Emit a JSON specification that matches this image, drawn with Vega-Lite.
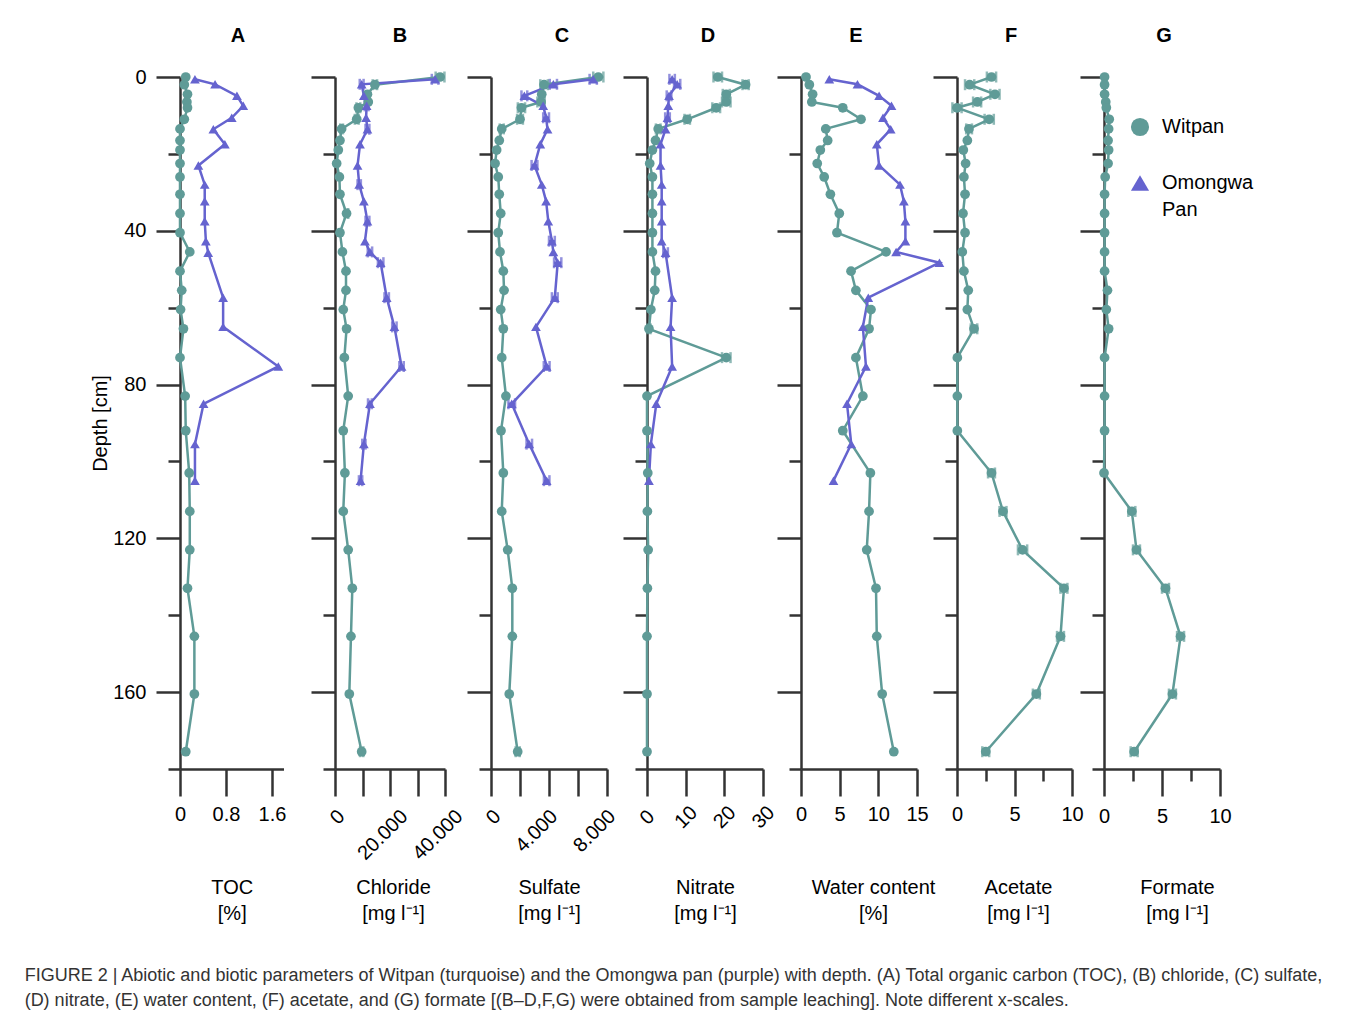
{
  "$schema": "https://vega.github.io/schema/vega-lite/v6.json",
  "background": "white",
  "padding": {"left": 24, "top": 25, "right": 10, "bottom": 5},
  "spacing": 0,
  "bounds": "flush",
  "title": {
    "text": ["FIGURE 2 | Abiotic and biotic parameters of Witpan (turquoise) and the Omongwa pan (purple) with depth. (A) Total organic carbon (TOC), (B) chloride, (C) sulfate,", "(D) nitrate, (E) water content, (F) acetate, and (G) formate [(B–D,F,G) were obtained from sample leaching]. Note different x-scales."],
    "orient": "bottom", "anchor": "start", "frame": "bounds", "fontSize": 18, "fontWeight": "normal", "color": "#333333", "lineHeight": 25, "offset": 44, "dx": -66
  },
  "data": {"values": [
    {"panel":"A","site":"Witpan","depth":0,"value":0.10},{"panel":"A","site":"Witpan","depth":2,"value":0.075},{"panel":"A","site":"Witpan","depth":4.5,"value":0.13},{"panel":"A","site":"Witpan","depth":6.5,"value":0.12},{"panel":"A","site":"Witpan","depth":8,"value":0.13},{"panel":"A","site":"Witpan","depth":11,"value":0.075},{"panel":"A","site":"Witpan","depth":13.5,"value":0},{"panel":"A","site":"Witpan","depth":16.5,"value":0},{"panel":"A","site":"Witpan","depth":19,"value":0},{"panel":"A","site":"Witpan","depth":22.5,"value":0},{"panel":"A","site":"Witpan","depth":26,"value":0},{"panel":"A","site":"Witpan","depth":30.5,"value":0},{"panel":"A","site":"Witpan","depth":35.5,"value":0},{"panel":"A","site":"Witpan","depth":40.5,"value":0},{"panel":"A","site":"Witpan","depth":45.5,"value":0.17},{"panel":"A","site":"Witpan","depth":50.5,"value":0},{"panel":"A","site":"Witpan","depth":55.5,"value":0.03},{"panel":"A","site":"Witpan","depth":60.5,"value":0.01},{"panel":"A","site":"Witpan","depth":65.5,"value":0.06},{"panel":"A","site":"Witpan","depth":73,"value":0},{"panel":"A","site":"Witpan","depth":83,"value":0.09},{"panel":"A","site":"Witpan","depth":92,"value":0.10},{"panel":"A","site":"Witpan","depth":103,"value":0.16},{"panel":"A","site":"Witpan","depth":113,"value":0.17},{"panel":"A","site":"Witpan","depth":123,"value":0.17},{"panel":"A","site":"Witpan","depth":133,"value":0.13},{"panel":"A","site":"Witpan","depth":145.5,"value":0.25},{"panel":"A","site":"Witpan","depth":160.5,"value":0.25},{"panel":"A","site":"Witpan","depth":175.5,"value":0.10},
    {"panel":"A","site":"Omongwa Pan","depth":0.6,"value":0.26},{"panel":"A","site":"Omongwa Pan","depth":1.9,"value":0.61},{"panel":"A","site":"Omongwa Pan","depth":4.9,"value":0.99},{"panel":"A","site":"Omongwa Pan","depth":7.5,"value":1.10},{"panel":"A","site":"Omongwa Pan","depth":10.6,"value":0.90},{"panel":"A","site":"Omongwa Pan","depth":13.6,"value":0.58},{"panel":"A","site":"Omongwa Pan","depth":17.5,"value":0.78},{"panel":"A","site":"Omongwa Pan","depth":23,"value":0.32},{"panel":"A","site":"Omongwa Pan","depth":28,"value":0.43},{"panel":"A","site":"Omongwa Pan","depth":32.3,"value":0.43},{"panel":"A","site":"Omongwa Pan","depth":37.5,"value":0.43},{"panel":"A","site":"Omongwa Pan","depth":42.7,"value":0.45},{"panel":"A","site":"Omongwa Pan","depth":45.7,"value":0.49},{"panel":"A","site":"Omongwa Pan","depth":57.4,"value":0.75},{"panel":"A","site":"Omongwa Pan","depth":65,"value":0.75},{"panel":"A","site":"Omongwa Pan","depth":75.3,"value":1.71},{"panel":"A","site":"Omongwa Pan","depth":85,"value":0.41},{"panel":"A","site":"Omongwa Pan","depth":95.5,"value":0.26},{"panel":"A","site":"Omongwa Pan","depth":105,"value":0.26},
    {"panel":"B","site":"Witpan","depth":0,"value":38200,"lo":36600,"hi":39800},{"panel":"B","site":"Witpan","depth":2,"value":14500,"lo":13700,"hi":15300},{"panel":"B","site":"Witpan","depth":4.5,"value":11800},{"panel":"B","site":"Witpan","depth":6.5,"value":12100},{"panel":"B","site":"Witpan","depth":8,"value":8500,"lo":7800,"hi":9200},{"panel":"B","site":"Witpan","depth":11,"value":7900,"lo":7200,"hi":8600},{"panel":"B","site":"Witpan","depth":13.5,"value":2400,"lo":1900,"hi":2900},{"panel":"B","site":"Witpan","depth":16.5,"value":1800},{"panel":"B","site":"Witpan","depth":19,"value":1200},{"panel":"B","site":"Witpan","depth":22.5,"value":600},{"panel":"B","site":"Witpan","depth":26,"value":1600},{"panel":"B","site":"Witpan","depth":30.5,"value":1800},{"panel":"B","site":"Witpan","depth":35.5,"value":4200,"lo":3600,"hi":4800},{"panel":"B","site":"Witpan","depth":40.5,"value":1800},{"panel":"B","site":"Witpan","depth":45.5,"value":2700},{"panel":"B","site":"Witpan","depth":50.5,"value":4000},{"panel":"B","site":"Witpan","depth":55.5,"value":4000},{"panel":"B","site":"Witpan","depth":60.5,"value":3000},{"panel":"B","site":"Witpan","depth":65.5,"value":4200},{"panel":"B","site":"Witpan","depth":73,"value":3400},{"panel":"B","site":"Witpan","depth":83,"value":4800},{"panel":"B","site":"Witpan","depth":92,"value":3000},{"panel":"B","site":"Witpan","depth":103,"value":3600},{"panel":"B","site":"Witpan","depth":113,"value":3000},{"panel":"B","site":"Witpan","depth":123,"value":4800},{"panel":"B","site":"Witpan","depth":133,"value":6300},{"panel":"B","site":"Witpan","depth":145.5,"value":5800},{"panel":"B","site":"Witpan","depth":160.5,"value":5200},{"panel":"B","site":"Witpan","depth":175.5,"value":9700,"lo":9100,"hi":10300},
    {"panel":"B","site":"Omongwa Pan","depth":0.6,"value":36400,"lo":35200,"hi":37600},{"panel":"B","site":"Omongwa Pan","depth":1.9,"value":9700,"lo":9000,"hi":10400},{"panel":"B","site":"Omongwa Pan","depth":4.9,"value":10500},{"panel":"B","site":"Omongwa Pan","depth":7.5,"value":11500,"lo":10800,"hi":12200},{"panel":"B","site":"Omongwa Pan","depth":10.6,"value":11300},{"panel":"B","site":"Omongwa Pan","depth":13.6,"value":11800,"lo":11100,"hi":12500},{"panel":"B","site":"Omongwa Pan","depth":17.5,"value":9100},{"panel":"B","site":"Omongwa Pan","depth":23,"value":8200},{"panel":"B","site":"Omongwa Pan","depth":28,"value":8800,"lo":8200,"hi":9400},{"panel":"B","site":"Omongwa Pan","depth":32.3,"value":10500},{"panel":"B","site":"Omongwa Pan","depth":37.5,"value":11800,"lo":11100,"hi":12500},{"panel":"B","site":"Omongwa Pan","depth":42.7,"value":10900},{"panel":"B","site":"Omongwa Pan","depth":45.5,"value":12700,"lo":11900,"hi":13500},{"panel":"B","site":"Omongwa Pan","depth":48.3,"value":16600,"lo":15600,"hi":17600},{"panel":"B","site":"Omongwa Pan","depth":57.4,"value":18800,"lo":18000,"hi":19600},{"panel":"B","site":"Omongwa Pan","depth":65,"value":21600,"lo":20800,"hi":22400},{"panel":"B","site":"Omongwa Pan","depth":75.3,"value":24200,"lo":23400,"hi":25000},{"panel":"B","site":"Omongwa Pan","depth":85,"value":12700,"lo":12000,"hi":13400},{"panel":"B","site":"Omongwa Pan","depth":95.5,"value":10500,"lo":9900,"hi":11100},{"panel":"B","site":"Omongwa Pan","depth":105,"value":9300,"lo":8700,"hi":9900},
    {"panel":"C","site":"Witpan","depth":0,"value":7400,"lo":7050,"hi":7750},{"panel":"C","site":"Witpan","depth":2,"value":3660,"lo":3400,"hi":3920},{"panel":"C","site":"Witpan","depth":4.5,"value":3500},{"panel":"C","site":"Witpan","depth":6.5,"value":3450,"lo":3200,"hi":3700},{"panel":"C","site":"Witpan","depth":8,"value":2100,"lo":1850,"hi":2350},{"panel":"C","site":"Witpan","depth":11,"value":2000,"lo":1800,"hi":2200},{"panel":"C","site":"Witpan","depth":13.5,"value":740,"lo":600,"hi":880},{"panel":"C","site":"Witpan","depth":16.5,"value":570},{"panel":"C","site":"Witpan","depth":19,"value":390},{"panel":"C","site":"Witpan","depth":22.5,"value":280},{"panel":"C","site":"Witpan","depth":26,"value":500},{"panel":"C","site":"Witpan","depth":30.5,"value":570},{"panel":"C","site":"Witpan","depth":35.5,"value":670},{"panel":"C","site":"Witpan","depth":40.5,"value":500},{"panel":"C","site":"Witpan","depth":45.5,"value":620},{"panel":"C","site":"Witpan","depth":50.5,"value":850},{"panel":"C","site":"Witpan","depth":55.5,"value":900},{"panel":"C","site":"Witpan","depth":60.5,"value":670},{"panel":"C","site":"Witpan","depth":65.5,"value":850},{"panel":"C","site":"Witpan","depth":73,"value":740},{"panel":"C","site":"Witpan","depth":83,"value":1030},{"panel":"C","site":"Witpan","depth":92,"value":690},{"panel":"C","site":"Witpan","depth":103,"value":850},{"panel":"C","site":"Witpan","depth":113,"value":740},{"panel":"C","site":"Witpan","depth":123,"value":1150},{"panel":"C","site":"Witpan","depth":133,"value":1470},{"panel":"C","site":"Witpan","depth":145.5,"value":1470},{"panel":"C","site":"Witpan","depth":160.5,"value":1260},{"panel":"C","site":"Witpan","depth":175.5,"value":1840,"lo":1700,"hi":1980},
    {"panel":"C","site":"Omongwa Pan","depth":0.6,"value":7050,"lo":6800,"hi":7300},{"panel":"C","site":"Omongwa Pan","depth":1.9,"value":4300,"lo":4050,"hi":4550},{"panel":"C","site":"Omongwa Pan","depth":4.9,"value":2300,"lo":2100,"hi":2500},{"panel":"C","site":"Omongwa Pan","depth":7.5,"value":3600},{"panel":"C","site":"Omongwa Pan","depth":10.6,"value":3800,"lo":3600,"hi":4000},{"panel":"C","site":"Omongwa Pan","depth":13.6,"value":3900},{"panel":"C","site":"Omongwa Pan","depth":17.5,"value":3400},{"panel":"C","site":"Omongwa Pan","depth":23,"value":3000,"lo":2800,"hi":3200},{"panel":"C","site":"Omongwa Pan","depth":28,"value":3500},{"panel":"C","site":"Omongwa Pan","depth":32.3,"value":3800},{"panel":"C","site":"Omongwa Pan","depth":37.5,"value":3950},{"panel":"C","site":"Omongwa Pan","depth":42.7,"value":4200,"lo":4000,"hi":4400},{"panel":"C","site":"Omongwa Pan","depth":45.5,"value":4300},{"panel":"C","site":"Omongwa Pan","depth":48.3,"value":4600,"lo":4350,"hi":4850},{"panel":"C","site":"Omongwa Pan","depth":57.4,"value":4400,"lo":4200,"hi":4600},{"panel":"C","site":"Omongwa Pan","depth":65,"value":3100},{"panel":"C","site":"Omongwa Pan","depth":75.3,"value":3840,"lo":3640,"hi":4040},{"panel":"C","site":"Omongwa Pan","depth":85,"value":1430,"lo":1200,"hi":1660},{"panel":"C","site":"Omongwa Pan","depth":95.5,"value":2640,"lo":2450,"hi":2830},{"panel":"C","site":"Omongwa Pan","depth":105,"value":3840,"lo":3650,"hi":4030},
    {"panel":"D","site":"Witpan","depth":0,"value":18.3,"lo":17.2,"hi":19.4},{"panel":"D","site":"Witpan","depth":2,"value":25.5,"lo":24.7,"hi":26.3},{"panel":"D","site":"Witpan","depth":4.5,"value":20.5,"lo":19.6,"hi":21.4},{"panel":"D","site":"Witpan","depth":6.5,"value":20.5,"lo":19.4,"hi":21.6},{"panel":"D","site":"Witpan","depth":8,"value":17.9,"lo":16.9,"hi":18.9},{"panel":"D","site":"Witpan","depth":11,"value":10.4,"lo":9.7,"hi":11.1},{"panel":"D","site":"Witpan","depth":13.5,"value":2.9,"lo":2.3,"hi":3.5},{"panel":"D","site":"Witpan","depth":16.5,"value":2.2},{"panel":"D","site":"Witpan","depth":19,"value":1.4},{"panel":"D","site":"Witpan","depth":22.5,"value":0.7},{"panel":"D","site":"Witpan","depth":26,"value":1.4},{"panel":"D","site":"Witpan","depth":30.5,"value":1.4},{"panel":"D","site":"Witpan","depth":35.5,"value":1.4},{"panel":"D","site":"Witpan","depth":40.5,"value":1.4},{"panel":"D","site":"Witpan","depth":45.5,"value":1.4},{"panel":"D","site":"Witpan","depth":50.5,"value":2.2},{"panel":"D","site":"Witpan","depth":55.5,"value":2.0},{"panel":"D","site":"Witpan","depth":60.5,"value":1.0},{"panel":"D","site":"Witpan","depth":65.5,"value":0.5,"lo":0.1,"hi":0.9},{"panel":"D","site":"Witpan","depth":73,"value":20.5,"lo":19.4,"hi":21.6},{"panel":"D","site":"Witpan","depth":83,"value":0},{"panel":"D","site":"Witpan","depth":92,"value":0},{"panel":"D","site":"Witpan","depth":103,"value":0.2},{"panel":"D","site":"Witpan","depth":113,"value":0.1},{"panel":"D","site":"Witpan","depth":123,"value":0.3},{"panel":"D","site":"Witpan","depth":133,"value":0.1},{"panel":"D","site":"Witpan","depth":145.5,"value":0},{"panel":"D","site":"Witpan","depth":160.5,"value":0},{"panel":"D","site":"Witpan","depth":175.5,"value":0},
    {"panel":"D","site":"Omongwa Pan","depth":0.6,"value":6.5,"lo":5.8,"hi":7.2},{"panel":"D","site":"Omongwa Pan","depth":1.9,"value":7.8,"lo":7.0,"hi":8.6},{"panel":"D","site":"Omongwa Pan","depth":4.9,"value":5.7,"lo":5.1,"hi":6.3},{"panel":"D","site":"Omongwa Pan","depth":7.5,"value":5.5},{"panel":"D","site":"Omongwa Pan","depth":10.6,"value":5.3,"lo":4.7,"hi":5.9},{"panel":"D","site":"Omongwa Pan","depth":13.6,"value":4.8},{"panel":"D","site":"Omongwa Pan","depth":17.5,"value":3.5},{"panel":"D","site":"Omongwa Pan","depth":23,"value":3.5},{"panel":"D","site":"Omongwa Pan","depth":28,"value":3.8},{"panel":"D","site":"Omongwa Pan","depth":32.3,"value":3.8},{"panel":"D","site":"Omongwa Pan","depth":37.5,"value":3.8},{"panel":"D","site":"Omongwa Pan","depth":42.7,"value":3.8},{"panel":"D","site":"Omongwa Pan","depth":45.7,"value":4.8,"lo":4.2,"hi":5.4},{"panel":"D","site":"Omongwa Pan","depth":57.4,"value":6.5},{"panel":"D","site":"Omongwa Pan","depth":65,"value":6.1},{"panel":"D","site":"Omongwa Pan","depth":75.3,"value":6.5},{"panel":"D","site":"Omongwa Pan","depth":85,"value":2.4},{"panel":"D","site":"Omongwa Pan","depth":95.5,"value":1.0},{"panel":"D","site":"Omongwa Pan","depth":105,"value":0.5},
    {"panel":"E","site":"Witpan","depth":0,"value":0.65},{"panel":"E","site":"Witpan","depth":2,"value":1.08},{"panel":"E","site":"Witpan","depth":4.5,"value":1.5},{"panel":"E","site":"Witpan","depth":6.5,"value":1.4},{"panel":"E","site":"Witpan","depth":8,"value":5.4},{"panel":"E","site":"Witpan","depth":11,"value":7.76},{"panel":"E","site":"Witpan","depth":13.5,"value":3.2},{"panel":"E","site":"Witpan","depth":16.5,"value":3.45},{"panel":"E","site":"Witpan","depth":19,"value":2.5},{"panel":"E","site":"Witpan","depth":22.5,"value":2.1},{"panel":"E","site":"Witpan","depth":26,"value":3.0},{"panel":"E","site":"Witpan","depth":30.5,"value":3.8},{"panel":"E","site":"Witpan","depth":35.5,"value":4.95},{"panel":"E","site":"Witpan","depth":40.5,"value":4.65},{"panel":"E","site":"Witpan","depth":45.5,"value":11.0},{"panel":"E","site":"Witpan","depth":50.5,"value":6.47},{"panel":"E","site":"Witpan","depth":55.5,"value":7.1},{"panel":"E","site":"Witpan","depth":60.5,"value":9.05},{"panel":"E","site":"Witpan","depth":65.5,"value":8.8},{"panel":"E","site":"Witpan","depth":73,"value":7.1},{"panel":"E","site":"Witpan","depth":83,"value":8.0},{"panel":"E","site":"Witpan","depth":92,"value":5.4},{"panel":"E","site":"Witpan","depth":103,"value":8.97},{"panel":"E","site":"Witpan","depth":113,"value":8.8},{"panel":"E","site":"Witpan","depth":123,"value":8.5},{"panel":"E","site":"Witpan","depth":133,"value":9.7},{"panel":"E","site":"Witpan","depth":145.5,"value":9.8},{"panel":"E","site":"Witpan","depth":160.5,"value":10.5},{"panel":"E","site":"Witpan","depth":175.5,"value":12.0},
    {"panel":"E","site":"Omongwa Pan","depth":0.6,"value":3.66},{"panel":"E","site":"Omongwa Pan","depth":1.9,"value":7.3},{"panel":"E","site":"Omongwa Pan","depth":4.9,"value":10.1},{"panel":"E","site":"Omongwa Pan","depth":7.5,"value":11.7},{"panel":"E","site":"Omongwa Pan","depth":10.6,"value":10.6},{"panel":"E","site":"Omongwa Pan","depth":13.6,"value":11.6},{"panel":"E","site":"Omongwa Pan","depth":17.5,"value":9.8},{"panel":"E","site":"Omongwa Pan","depth":23,"value":10.1},{"panel":"E","site":"Omongwa Pan","depth":28,"value":12.8},{"panel":"E","site":"Omongwa Pan","depth":32.3,"value":13.3},{"panel":"E","site":"Omongwa Pan","depth":37.5,"value":13.5},{"panel":"E","site":"Omongwa Pan","depth":42.7,"value":13.5},{"panel":"E","site":"Omongwa Pan","depth":45.5,"value":12.3},{"panel":"E","site":"Omongwa Pan","depth":48.3,"value":17.9},{"panel":"E","site":"Omongwa Pan","depth":57.4,"value":8.7},{"panel":"E","site":"Omongwa Pan","depth":65,"value":8.0},{"panel":"E","site":"Omongwa Pan","depth":75.3,"value":8.4},{"panel":"E","site":"Omongwa Pan","depth":85,"value":5.95},{"panel":"E","site":"Omongwa Pan","depth":95.5,"value":6.5},{"panel":"E","site":"Omongwa Pan","depth":105,"value":4.2},
    {"panel":"F","site":"Witpan","depth":0,"value":3.0,"lo":2.6,"hi":3.4},{"panel":"F","site":"Witpan","depth":2,"value":1.1,"lo":0.7,"hi":1.5},{"panel":"F","site":"Witpan","depth":4.5,"value":3.3,"lo":2.9,"hi":3.7},{"panel":"F","site":"Witpan","depth":6.5,"value":1.77,"lo":1.4,"hi":2.1},{"panel":"F","site":"Witpan","depth":8,"value":0,"lo":-0.4,"hi":0.4},{"panel":"F","site":"Witpan","depth":11,"value":2.8,"lo":2.4,"hi":3.2},{"panel":"F","site":"Witpan","depth":13.5,"value":1.04,"lo":0.8,"hi":1.3},{"panel":"F","site":"Witpan","depth":16.5,"value":0.9},{"panel":"F","site":"Witpan","depth":19,"value":0.55},{"panel":"F","site":"Witpan","depth":22.5,"value":0.75},{"panel":"F","site":"Witpan","depth":26,"value":0.6},{"panel":"F","site":"Witpan","depth":30.5,"value":0.7},{"panel":"F","site":"Witpan","depth":35.5,"value":0.52},{"panel":"F","site":"Witpan","depth":40.5,"value":0.7},{"panel":"F","site":"Witpan","depth":45.5,"value":0.46},{"panel":"F","site":"Witpan","depth":50.5,"value":0.6},{"panel":"F","site":"Witpan","depth":55.5,"value":0.98},{"panel":"F","site":"Witpan","depth":60.5,"value":0.9},{"panel":"F","site":"Witpan","depth":65.5,"value":1.48,"lo":1.2,"hi":1.76},{"panel":"F","site":"Witpan","depth":73,"value":0.03},{"panel":"F","site":"Witpan","depth":83,"value":0.03},{"panel":"F","site":"Witpan","depth":92,"value":0.03},{"panel":"F","site":"Witpan","depth":103,"value":3.0,"lo":2.7,"hi":3.3},{"panel":"F","site":"Witpan","depth":113,"value":4.0,"lo":3.7,"hi":4.3},{"panel":"F","site":"Witpan","depth":123,"value":5.7,"lo":5.3,"hi":6.1},{"panel":"F","site":"Witpan","depth":133,"value":9.3,"lo":9.0,"hi":9.6},{"panel":"F","site":"Witpan","depth":145.5,"value":9.0,"lo":8.7,"hi":9.3},{"panel":"F","site":"Witpan","depth":160.5,"value":6.9,"lo":6.6,"hi":7.2},{"panel":"F","site":"Witpan","depth":175.5,"value":2.5,"lo":2.2,"hi":2.8},
    {"panel":"G","site":"Witpan","depth":0,"value":0.05},{"panel":"G","site":"Witpan","depth":2,"value":0.05},{"panel":"G","site":"Witpan","depth":4.5,"value":0.05},{"panel":"G","site":"Witpan","depth":6.5,"value":0.15},{"panel":"G","site":"Witpan","depth":8,"value":0.2},{"panel":"G","site":"Witpan","depth":11,"value":0.45},{"panel":"G","site":"Witpan","depth":13.5,"value":0.4},{"panel":"G","site":"Witpan","depth":16.5,"value":0.35},{"panel":"G","site":"Witpan","depth":19,"value":0.4},{"panel":"G","site":"Witpan","depth":22.5,"value":0.35},{"panel":"G","site":"Witpan","depth":26,"value":0.1},{"panel":"G","site":"Witpan","depth":30.5,"value":0.05},{"panel":"G","site":"Witpan","depth":35.5,"value":0.05},{"panel":"G","site":"Witpan","depth":40.5,"value":0.05},{"panel":"G","site":"Witpan","depth":45.5,"value":0.05},{"panel":"G","site":"Witpan","depth":50.5,"value":0.05},{"panel":"G","site":"Witpan","depth":55.5,"value":0.3},{"panel":"G","site":"Witpan","depth":60.5,"value":0.2},{"panel":"G","site":"Witpan","depth":65.5,"value":0.4},{"panel":"G","site":"Witpan","depth":73,"value":0.05},{"panel":"G","site":"Witpan","depth":83,"value":0.05},{"panel":"G","site":"Witpan","depth":92,"value":0.05},{"panel":"G","site":"Witpan","depth":103,"value":0},{"panel":"G","site":"Witpan","depth":113,"value":2.4,"lo":2.1,"hi":2.7},{"panel":"G","site":"Witpan","depth":123,"value":2.8,"lo":2.5,"hi":3.1},{"panel":"G","site":"Witpan","depth":133,"value":5.3,"lo":5.0,"hi":5.6},{"panel":"G","site":"Witpan","depth":145.5,"value":6.6,"lo":6.3,"hi":6.9},{"panel":"G","site":"Witpan","depth":160.5,"value":5.9,"lo":5.6,"hi":6.2},{"panel":"G","site":"Witpan","depth":175.5,"value":2.6,"lo":2.3,"hi":2.9}
  ]},
  "hconcat": [
    {
      "width": 155, "height": 692,
      "title": {"text": "A", "anchor": "start", "frame": "group", "align": "center", "dx": 58, "offset": 5, "baseline": "alphabetic"},
      "transform": [{"filter": "datum.panel === 'A'"}],
      "encoding": {
        "y": {"field": "depth", "type": "quantitative", "scale": {"domain": [0, 180], "reverse": true, "nice": false, "zero": false},
          "axis": {"values": [0,20,40,60,80,100,120,140,160,180], "labelExpr": "datum.value % 40 === 0 && datum.value < 180 ? datum.label : ''", "tickSize": {"condition": {"test": "datum.value % 40 === 0 && datum.value < 180", "value": 24}, "value": 12}, "labelPadding": 10, "title": "Depth [cm]", "titlePadding": 2}},
        "x": {"field": "value", "type": "quantitative", "scale": {"domain": [0, 1.8], "range": [0, 103.5], "nice": false},
          "axis": {"values": [0, 0.8, 1.6], "format": "~g", "title": ["TOC", "[%]"], "tickSize": 27, "labelPadding": 8, "labelAngle": 0}},
        "color": {"field": "site", "type": "nominal", "scale": {"domain": ["Witpan", "Omongwa Pan"], "range": ["#5f9b97", "#6563cf"]}, "legend": {"title": null, "labelExpr": "datum.label === 'Omongwa Pan' ? ['Omongwa', 'Pan'] : datum.label", "encode": {"labels": {"update": {"lineHeight": {"value": 27}}}}}}
      },
      "layer": [
        {"mark": {"type": "line", "strokeWidth": 2.5}, "encoding": {"order": {"field": "depth", "type": "quantitative"}}},
        {"mark": {"type": "point", "filled": true, "opacity": 1, "size": 95}, "encoding": {"shape": {"field": "site", "type": "nominal", "scale": {"domain": ["Witpan", "Omongwa Pan"], "range": ["circle", "triangle-up"]}, "legend": {"title": null, "labelExpr": "datum.label === 'Omongwa Pan' ? ['Omongwa', 'Pan'] : datum.label", "encode": {"labels": {"update": {"lineHeight": {"value": 27}}}}}}}}
      ]
    },
    {
      "width": 156, "height": 692,
      "title": {"text": "B", "anchor": "start", "frame": "group", "align": "center", "dx": 65, "offset": 10, "baseline": "alphabetic"},
      "transform": [{"filter": "datum.panel === 'B'"}],
      "encoding": {
        "y": {"field": "depth", "type": "quantitative", "scale": {"domain": [0, 180], "reverse": true, "nice": false, "zero": false},
          "axis": {"values": [0,20,40,60,80,100,120,140,160,180], "labels": false, "tickSize": {"condition": {"test": "datum.value % 40 === 0 && datum.value < 180", "value": 24}, "value": 12}, "title": null}},
        "x": {"field": "value", "type": "quantitative", "scale": {"domain": [0, 40000], "range": [0, 110], "nice": false},
          "axis": {"values": [0, 10000, 20000, 30000, 40000], "labelExpr": "datum.value === 0 ? '0' : datum.value === 20000 ? '20.000' : datum.value === 40000 ? '40.000' : ''", "title": ["Chloride", "[mg l⁻¹]"], "titleX": 58, "tickSize": 27, "labelAngle": -45, "labelAlign": "right", "labelBaseline": "middle", "labelPadding": 17, "labelOffset": {"condition": {"test": "datum.value === 0", "value": 6}, "value": 14}}},
        "color": {"field": "site", "type": "nominal", "scale": {"domain": ["Witpan", "Omongwa Pan"], "range": ["#5f9b97", "#6563cf"]}, "legend": {"title": null, "labelExpr": "datum.label === 'Omongwa Pan' ? ['Omongwa', 'Pan'] : datum.label", "encode": {"labels": {"update": {"lineHeight": {"value": 27}}}}}}
      },
      "layer": [
        {"transform": [{"filter": "isValid(datum.lo)"}], "mark": {"type": "errorbar", "ticks": {"size": 11}, "thickness": 2.5}, "encoding": {"x": {"field": "lo", "type": "quantitative"}, "x2": {"field": "hi"}}},
        {"mark": {"type": "line", "strokeWidth": 2.5}, "encoding": {"order": {"field": "depth", "type": "quantitative"}}},
        {"mark": {"type": "point", "filled": true, "opacity": 1, "size": 95}, "encoding": {"shape": {"field": "site", "type": "nominal", "scale": {"domain": ["Witpan", "Omongwa Pan"], "range": ["circle", "triangle-up"]}, "legend": {"title": null, "labelExpr": "datum.label === 'Omongwa Pan' ? ['Omongwa', 'Pan'] : datum.label", "encode": {"labels": {"update": {"lineHeight": {"value": 27}}}}}}}}
      ]
    },
    {
      "width": 156, "height": 692,
      "title": {"text": "C", "anchor": "start", "frame": "group", "align": "center", "dx": 71, "offset": 10, "baseline": "alphabetic"},
      "transform": [{"filter": "datum.panel === 'C'"}],
      "encoding": {
        "y": {"field": "depth", "type": "quantitative", "scale": {"domain": [0, 180], "reverse": true, "nice": false, "zero": false},
          "axis": {"values": [0,20,40,60,80,100,120,140,160,180], "labels": false, "tickSize": {"condition": {"test": "datum.value % 40 === 0 && datum.value < 180", "value": 24}, "value": 12}, "title": null}},
        "x": {"field": "value", "type": "quantitative", "scale": {"domain": [0, 8000], "range": [0, 116], "nice": false},
          "axis": {"values": [0, 2000, 4000, 6000, 8000], "labelExpr": "datum.value === 0 ? '0' : datum.value === 4000 ? '4.000' : datum.value === 8000 ? '8.000' : ''", "title": ["Sulfate", "[mg l⁻¹]"], "tickSize": 27, "labelAngle": -45, "labelAlign": "right", "labelBaseline": "middle", "labelPadding": 17, "labelOffset": {"condition": {"test": "datum.value === 0", "value": 6}, "value": 5}}},
        "color": {"field": "site", "type": "nominal", "scale": {"domain": ["Witpan", "Omongwa Pan"], "range": ["#5f9b97", "#6563cf"]}, "legend": {"title": null, "labelExpr": "datum.label === 'Omongwa Pan' ? ['Omongwa', 'Pan'] : datum.label", "encode": {"labels": {"update": {"lineHeight": {"value": 27}}}}}}
      },
      "layer": [
        {"transform": [{"filter": "isValid(datum.lo)"}], "mark": {"type": "errorbar", "ticks": {"size": 11}, "thickness": 2.5}, "encoding": {"x": {"field": "lo", "type": "quantitative"}, "x2": {"field": "hi"}}},
        {"mark": {"type": "line", "strokeWidth": 2.5}, "encoding": {"order": {"field": "depth", "type": "quantitative"}}},
        {"mark": {"type": "point", "filled": true, "opacity": 1, "size": 95}, "encoding": {"shape": {"field": "site", "type": "nominal", "scale": {"domain": ["Witpan", "Omongwa Pan"], "range": ["circle", "triangle-up"]}, "legend": {"title": null, "labelExpr": "datum.label === 'Omongwa Pan' ? ['Omongwa', 'Pan'] : datum.label", "encode": {"labels": {"update": {"lineHeight": {"value": 27}}}}}}}}
      ]
    },
    {
      "width": 154, "height": 692,
      "title": {"text": "D", "anchor": "start", "frame": "group", "align": "center", "dx": 61, "offset": 10, "baseline": "alphabetic"},
      "transform": [{"filter": "datum.panel === 'D'"}],
      "encoding": {
        "y": {"field": "depth", "type": "quantitative", "scale": {"domain": [0, 180], "reverse": true, "nice": false, "zero": false},
          "axis": {"values": [0,20,40,60,80,100,120,140,160,180], "labels": false, "tickSize": {"condition": {"test": "datum.value % 40 === 0 && datum.value < 180", "value": 24}, "value": 12}, "title": null}},
        "x": {"field": "value", "type": "quantitative", "scale": {"domain": [0, 30], "range": [0, 116], "nice": false},
          "axis": {"values": [0, 10, 20, 30], "title": ["Nitrate", "[mg l⁻¹]"], "tickSize": 27, "labelAngle": -45, "labelAlign": "center", "labelBaseline": "middle", "labelPadding": 21}},
        "color": {"field": "site", "type": "nominal", "scale": {"domain": ["Witpan", "Omongwa Pan"], "range": ["#5f9b97", "#6563cf"]}, "legend": {"title": null, "labelExpr": "datum.label === 'Omongwa Pan' ? ['Omongwa', 'Pan'] : datum.label", "encode": {"labels": {"update": {"lineHeight": {"value": 27}}}}}}
      },
      "layer": [
        {"transform": [{"filter": "isValid(datum.lo)"}], "mark": {"type": "errorbar", "ticks": {"size": 11}, "thickness": 2.5}, "encoding": {"x": {"field": "lo", "type": "quantitative"}, "x2": {"field": "hi"}}},
        {"mark": {"type": "line", "strokeWidth": 2.5}, "encoding": {"order": {"field": "depth", "type": "quantitative"}}},
        {"mark": {"type": "point", "filled": true, "opacity": 1, "size": 95}, "encoding": {"shape": {"field": "site", "type": "nominal", "scale": {"domain": ["Witpan", "Omongwa Pan"], "range": ["circle", "triangle-up"]}, "legend": {"title": null, "labelExpr": "datum.label === 'Omongwa Pan' ? ['Omongwa', 'Pan'] : datum.label", "encode": {"labels": {"update": {"lineHeight": {"value": 27}}}}}}}}
      ]
    },
    {
      "width": 156, "height": 692,
      "title": {"text": "E", "anchor": "start", "frame": "group", "align": "center", "dx": 55, "offset": 10, "baseline": "alphabetic"},
      "transform": [{"filter": "datum.panel === 'E'"}],
      "encoding": {
        "y": {"field": "depth", "type": "quantitative", "scale": {"domain": [0, 180], "reverse": true, "nice": false, "zero": false},
          "axis": {"values": [0,20,40,60,80,100,120,140,160,180], "labels": false, "tickSize": {"condition": {"test": "datum.value % 40 === 0 && datum.value < 180", "value": 24}, "value": 12}, "title": null}},
        "x": {"field": "value", "type": "quantitative", "scale": {"domain": [0, 15], "range": [0, 116], "nice": false},
          "axis": {"values": [0, 5, 10, 15], "title": ["Water content", "[%]"], "titleX": 72, "tickSize": 27, "labelPadding": 8, "labelAngle": 0}},
        "color": {"field": "site", "type": "nominal", "scale": {"domain": ["Witpan", "Omongwa Pan"], "range": ["#5f9b97", "#6563cf"]}, "legend": {"title": null, "labelExpr": "datum.label === 'Omongwa Pan' ? ['Omongwa', 'Pan'] : datum.label", "encode": {"labels": {"update": {"lineHeight": {"value": 27}}}}}}
      },
      "layer": [
        {"mark": {"type": "line", "strokeWidth": 2.5}, "encoding": {"order": {"field": "depth", "type": "quantitative"}}},
        {"mark": {"type": "point", "filled": true, "opacity": 1, "size": 95}, "encoding": {"shape": {"field": "site", "type": "nominal", "scale": {"domain": ["Witpan", "Omongwa Pan"], "range": ["circle", "triangle-up"]}, "legend": {"title": null, "labelExpr": "datum.label === 'Omongwa Pan' ? ['Omongwa', 'Pan'] : datum.label", "encode": {"labels": {"update": {"lineHeight": {"value": 27}}}}}}}}
      ]
    },
    {
      "width": 147, "height": 692,
      "title": {"text": "F", "anchor": "start", "frame": "group", "align": "center", "dx": 54, "offset": 10, "baseline": "alphabetic"},
      "transform": [{"filter": "datum.panel === 'F'"}],
      "encoding": {
        "y": {"field": "depth", "type": "quantitative", "scale": {"domain": [0, 180], "reverse": true, "nice": false, "zero": false},
          "axis": {"values": [0,20,40,60,80,100,120,140,160,180], "labels": false, "tickSize": {"condition": {"test": "datum.value % 40 === 0 && datum.value < 180", "value": 24}, "value": 12}, "title": null}},
        "x": {"field": "value", "type": "quantitative", "scale": {"domain": [0, 10], "range": [0, 115], "nice": false},
          "axis": {"values": [0, 2.5, 5, 7.5, 10], "labelExpr": "datum.value % 5 === 0 ? datum.label : ''", "title": ["Acetate", "[mg l⁻¹]"], "titleX": 61, "tickSize": {"condition": {"test": "datum.value % 5 === 0", "value": 27}, "value": 12}, "labelPadding": 8, "labelAngle": 0}},
        "color": {"field": "site", "type": "nominal", "scale": {"domain": ["Witpan", "Omongwa Pan"], "range": ["#5f9b97", "#6563cf"]}, "legend": {"title": null, "labelExpr": "datum.label === 'Omongwa Pan' ? ['Omongwa', 'Pan'] : datum.label", "encode": {"labels": {"update": {"lineHeight": {"value": 27}}}}}}
      },
      "layer": [
        {"transform": [{"filter": "isValid(datum.lo)"}], "mark": {"type": "errorbar", "ticks": {"size": 11}, "thickness": 2.5}, "encoding": {"x": {"field": "lo", "type": "quantitative"}, "x2": {"field": "hi"}}},
        {"mark": {"type": "line", "strokeWidth": 2.5}, "encoding": {"order": {"field": "depth", "type": "quantitative"}}},
        {"mark": {"type": "point", "filled": true, "opacity": 1, "size": 95}, "encoding": {"shape": {"field": "site", "type": "nominal", "scale": {"domain": ["Witpan", "Omongwa Pan"], "range": ["circle", "triangle-up"]}, "legend": {"title": null, "labelExpr": "datum.label === 'Omongwa Pan' ? ['Omongwa', 'Pan'] : datum.label", "encode": {"labels": {"update": {"lineHeight": {"value": 27}}}}}}}}
      ]
    },
    {
      "width": 160, "height": 692,
      "title": {"text": "G", "anchor": "start", "frame": "group", "align": "center", "dx": 60, "offset": 10, "baseline": "alphabetic"},
      "transform": [{"filter": "datum.panel === 'G'"}],
      "encoding": {
        "y": {"field": "depth", "type": "quantitative", "scale": {"domain": [0, 180], "reverse": true, "nice": false, "zero": false},
          "axis": {"values": [0,20,40,60,80,100,120,140,160,180], "labels": false, "tickSize": {"condition": {"test": "datum.value % 40 === 0 && datum.value < 180", "value": 24}, "value": 12}, "title": null}},
        "x": {"field": "value", "type": "quantitative", "scale": {"domain": [0, 10], "range": [0, 116], "nice": false},
          "axis": {"values": [0, 2.5, 5, 7.5, 10], "labelExpr": "datum.value % 5 === 0 ? datum.label : ''", "title": ["Formate", "[mg l⁻¹]"], "titleX": 73, "tickSize": {"condition": {"test": "datum.value % 5 === 0", "value": 27}, "value": 12}, "labelPadding": 10, "labelAngle": 0}},
        "color": {"field": "site", "type": "nominal", "scale": {"domain": ["Witpan", "Omongwa Pan"], "range": ["#5f9b97", "#6563cf"]}, "legend": {"title": null, "labelExpr": "datum.label === 'Omongwa Pan' ? ['Omongwa', 'Pan'] : datum.label", "encode": {"labels": {"update": {"lineHeight": {"value": 27}}}}}}
      },
      "layer": [
        {"transform": [{"filter": "isValid(datum.lo)"}], "mark": {"type": "errorbar", "ticks": {"size": 11}, "thickness": 2.5}, "encoding": {"x": {"field": "lo", "type": "quantitative"}, "x2": {"field": "hi"}}},
        {"mark": {"type": "line", "strokeWidth": 2.5}, "encoding": {"order": {"field": "depth", "type": "quantitative"}}},
        {"mark": {"type": "point", "filled": true, "opacity": 1, "size": 95}, "encoding": {"shape": {"field": "site", "type": "nominal", "scale": {"domain": ["Witpan", "Omongwa Pan"], "range": ["circle", "triangle-up"]}, "legend": {"title": null, "labelExpr": "datum.label === 'Omongwa Pan' ? ['Omongwa', 'Pan'] : datum.label", "encode": {"labels": {"update": {"lineHeight": {"value": 27}}}}}}}}
      ]
    }
  ],
  "config": {
    "font": "Liberation Sans",
    "view": {"stroke": null},
    "axis": {"grid": false, "domainColor": "#333333", "domainWidth": 2.5, "tickColor": "#333333", "tickWidth": 2.5, "labelFont": "Liberation Sans", "labelFontSize": 20, "labelColor": "#000000", "labelFlush": false, "labelOverlap": false, "titleFont": "Liberation Sans", "titleFontSize": 20, "titleFontWeight": "normal", "titleColor": "#000000"},
    "axisX": {"titleY": 124, "titleBaseline": "alphabetic", "titleLineHeight": 26},
    "title": {"font": "Liberation Sans", "fontSize": 20, "fontWeight": "bold", "color": "#000000"},
    "legend": {"orient": "none", "legendX": 950, "legendY": 40, "labelFont": "Liberation Sans", "labelFontSize": 20, "labelColor": "#000000", "symbolSize": 330, "rowPadding": 36, "labelOffset": 12, "symbolStrokeWidth": 0, "labelLimit": 300}
  }
}
